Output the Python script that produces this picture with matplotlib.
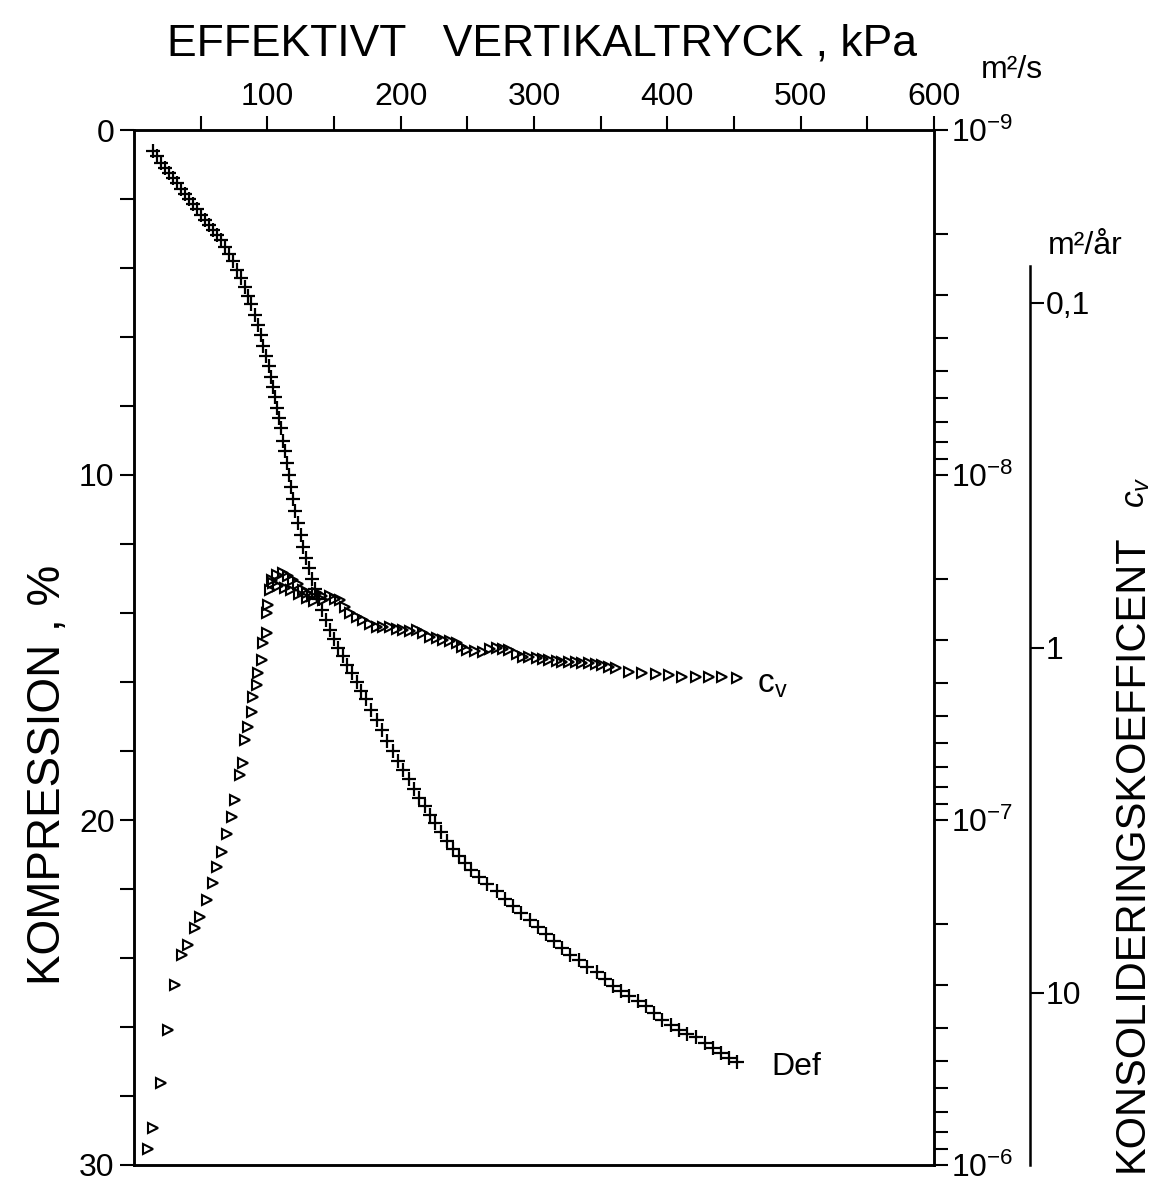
import matplotlib.pyplot as plt
import numpy as np
from matplotlib.ticker import FixedLocator, NullLocator

plt.rcParams['font.family'] = ['Liberation Sans', 'DejaVu Sans']
plt.rcParams['mathtext.fontset'] = 'custom'
plt.rcParams['mathtext.rm'] = 'Liberation Sans'
plt.rcParams['mathtext.it'] = 'Liberation Sans:italic'

# compression curve (Def): effective vertical stress kPa, compression %
def_stress = [14, 17, 20, 23, 26, 29, 32, 35, 38, 41,
              44, 47, 50, 53, 56, 59, 62, 65, 68, 71,
              74, 77, 80, 83, 85.5, 88, 90.5, 93, 95, 97,
              99, 101, 103, 104.5, 106, 107.5, 109, 110.5, 112, 113.5,
              115, 116.5, 118, 119.5, 121, 123, 125, 127, 129, 131,
              133.5, 136, 138.5, 141, 144, 147, 150, 153, 156.5, 160,
              163.5, 167, 170.5, 174, 178, 182, 186, 190, 194, 198,
              202, 206, 210, 214, 218, 222, 226, 230, 234.5, 239,
              243.5, 248, 253, 259, 265, 272, 278, 284, 290, 297,
              303, 309, 315, 321, 327, 334, 340, 347, 353, 359,
              365, 371.5, 378, 384, 390, 396, 403, 409, 415, 421.7,
              428, 434, 440, 446, 452]
def_compression = [0.6, 0.75, 0.95, 1.1, 1.25, 1.4, 1.55, 1.7, 1.85, 2.0,
                   2.15, 2.3, 2.45, 2.6, 2.75, 2.9, 3.05, 3.2, 3.4, 3.6,
                   3.8, 4.05, 4.3, 4.55, 4.8, 5.05, 5.35, 5.65, 5.95, 6.25,
                   6.55, 6.85, 7.15, 7.45, 7.75, 8.05, 8.35, 8.65, 9.0, 9.3,
                   9.65, 10.0, 10.35, 10.7, 11.05, 11.4, 11.75, 12.1, 12.4, 12.7,
                   13.0, 13.3, 13.6, 13.9, 14.2, 14.5, 14.75, 15.0, 15.25, 15.5,
                   15.75, 16.0, 16.25, 16.5, 16.8, 17.1, 17.4, 17.7, 18.0, 18.3,
                   18.55, 18.8, 19.1, 19.35, 19.6, 19.85, 20.1, 20.35, 20.6, 20.85,
                   21.05, 21.25, 21.45, 21.65, 21.85, 22.05, 22.3, 22.5, 22.7, 22.9,
                   23.1, 23.3, 23.5, 23.7, 23.9, 24.05, 24.25, 24.4, 24.6, 24.8,
                   24.95, 25.1, 25.25, 25.4, 25.6, 25.8, 25.95, 26.1, 26.2, 26.3,
                   26.45, 26.6, 26.75, 26.9, 27.0]

# consolidation coefficient cv: stress kPa, cv in 1e-8 m2/s
cv_stress = [10.5, 14.2, 20.2, 25.5, 30.7, 36.0, 40.4, 45.7, 49.4, 54.7,
             59.2, 62.2, 65.9, 69.7, 73.4, 75.7, 79.4, 81.6, 83.1, 85.4,
             88.4, 89.1, 92.1, 92.9, 95.9, 96.6, 99.6, 99.6, 100.4, 101.9,
             103.4, 107, 111.6, 115.4, 119, 122.8, 126.6, 129.6, 133.3, 137,
             140.8, 146.8, 150.6, 154.3, 158, 161.8, 167, 171.5, 176.8, 182,
             186.5, 191.8, 197, 201.5, 206.7, 212, 216.5, 221.7, 227, 231.5,
             236.7, 242, 245.7, 249.4, 255.4, 261.4, 266.7, 272, 276.4, 281.6,
             286.9, 291.4, 296.6, 301.9, 306.4, 311.6, 316.9, 321.3, 326.6, 331.8,
             336.3, 341.6, 346.8, 351.3, 356.6, 361.8, 371.5, 381.3, 391.8, 401.5,
             411.2, 421.7, 431.5, 441.2, 452.4,
             104, 108, 113, 118, 124, 130, 135, 142]
cv_e8 = [90, 78, 58, 40.6, 30, 24.6, 23, 20.6, 19.1, 17.1,
         15.2, 13.7, 12.4, 11.0, 9.8, 8.75, 7.4, 6.84, 5.86, 5.37,
         4.86, 4.4, 4.06, 3.75, 3.44, 3.07, 2.87, 2.51, 2.38, 2.15,
         2.01, 1.95, 1.92, 1.96, 2.01, 2.07, 2.15, 2.2, 2.24, 2.2,
         2.24, 2.24, 2.29, 2.3, 2.41, 2.51, 2.58, 2.63, 2.7, 2.76,
         2.76, 2.76, 2.79, 2.81, 2.83, 2.81, 2.87, 2.95, 2.97, 3.01,
         3.03, 3.07, 3.15, 3.22, 3.23, 3.26, 3.2, 3.17, 3.2, 3.22,
         3.3, 3.37, 3.37, 3.39, 3.41, 3.44, 3.46, 3.48, 3.48, 3.48,
         3.51, 3.51, 3.53, 3.56, 3.6, 3.63, 3.72, 3.75, 3.77, 3.8,
         3.85, 3.85, 3.85, 3.85, 3.88,
         2.05, 2.1, 2.12, 2.15, 2.22, 2.28, 2.32, 2.3]

stress_ticks = [100, 200, 300, 400, 500, 600]
compression_ticks = [0, 10, 20, 30]
cv_year_ticks = [0.1, 1, 10]
cv_year_labels = ['0,1', '1', '10']

SEC_PER_YEAR = 365.25 * 86400
cv = np.array(cv_e8) * 1e-8
last_cv = 94  # last point of the main cv run, labelled c_v

W, H = 1158, 1182
fig = plt.figure(figsize=(W / 100, H / 100), dpi=100)
ax = fig.add_axes([134 / W, 17 / H, 800 / W, 1035 / H])

for s in ax.spines.values():
    s.set_linewidth(1.8)

ax.plot(def_stress, def_compression, ls='none', marker='+', ms=10, mew=1.6, color='black')
ax.text(def_stress[-1] + 26, def_compression[-1] + 0.15, 'Def', fontsize=23, va='center', ha='left')

ax.set_xlim(0, 600)
ax.set_ylim(30, 0)
ax.xaxis.tick_top()
ax.set_xticks(stress_ticks)
ax.set_xticklabels([str(t) for t in stress_ticks])
ax.xaxis.set_minor_locator(FixedLocator(np.arange(50, 600, 100)))
ax.tick_params(axis='x', which='both', direction='out', length=10, width=1.5,
               labelsize=23, pad=3, top=True, bottom=False, labeltop=True, labelbottom=False)
ax.set_yticks(compression_ticks)
ax.yaxis.set_minor_locator(FixedLocator(np.arange(0, 31, 2)))
ax.tick_params(axis='y', which='both', direction='out', length=10, width=1.5,
               labelsize=23, pad=4)

ax2 = ax.twinx()
ax2.set_yscale('log')
ax2.set_ylim(1e-6, 1e-9)
ax2.plot(cv_stress, cv, ls='none', marker='>', ms=7.5, mew=1.5, mfc='none', color='black')
ax2.text(cv_stress[last_cv] + 15, cv[last_cv] * 1.04, 'c$_\\mathregular{v}$',
         fontsize=24, va='center', ha='left')
ax2.tick_params(axis='y', which='major', direction='out', length=10, width=1.5, labelsize=23, pad=2)
ax2.tick_params(axis='y', which='minor', direction='out', length=10, width=1.5,
                labelright=False)
for s in ax2.spines.values():
    s.set_linewidth(1.8)

ax3 = ax.twinx()
ax3.spines['right'].set_position(('axes', (1030 - 134) / 800))
for k in ['top', 'left', 'bottom']:
    ax3.spines[k].set_visible(False)
ax3.set_yscale('log')
ax3.set_ylim(1e-6 * SEC_PER_YEAR, 1e-9 * SEC_PER_YEAR)
ax3.spines['right'].set_bounds(1e-6 * SEC_PER_YEAR, 0.078)
ax3.spines['right'].set_linewidth(1.8)
ax3.yaxis.set_major_locator(FixedLocator(cv_year_ticks))
ax3.set_yticklabels(cv_year_labels)
ax3.yaxis.set_minor_locator(NullLocator())
ax3.tick_params(axis='y', which='major', direction='out', length=10, width=1.5, labelsize=23, pad=1)

fig.text(542 / W, 1 - 44 / H, 'EFFEKTIVT   VERTIKALTRYCK , kPa', ha='center', va='center', fontsize=32)
fig.text(1012 / W, 1 - 70 / H, 'm²/s', ha='center', va='center', fontsize=23)
fig.text(1085 / W, 1 - 246 / H, 'm²/år', ha='center', va='center', fontsize=23)
fig.text(48 / W, 1 - 775 / H, 'KOMPRESSION , %', rotation=90, ha='center', va='center', fontsize=33)
fig.text(1132 / W, 1 - 1172 / H, 'KONSOLIDERINGSKOEFFICENT', rotation=90,
         ha='center', va='bottom', fontsize=30)
fig.text(1136 / W, 1 - 492 / H, '$c_v$', rotation=90, ha='center', va='center', fontsize=24)

fig.savefig('out.png', dpi=100)
